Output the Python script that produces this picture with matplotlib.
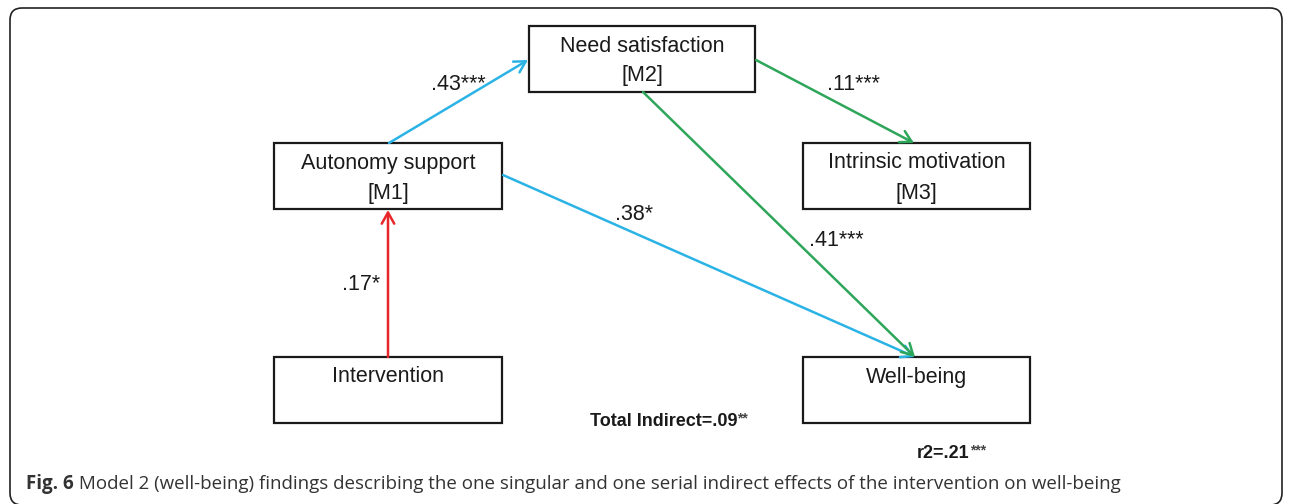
import matplotlib.pyplot as plt
from matplotlib.patches import Rectangle, FancyBboxPatch, FancyArrowPatch

# nodes of the path model
node_labels = ["Intervention", "Autonomy support\n[M1]", "Need satisfaction\n[M2]",
               "Intrinsic motivation\n[M3]", "Well-being"]
# paths (from node, to node), coefficient and colour group
path_from = [0, 1, 1, 2, 2]
path_to = [1, 2, 4, 3, 4]
path_coef = [".17*", ".43***", ".38*", ".11***", ".41***"]
path_kind = ["a", "b", "b", "c", "c"]

total_indirect = "Total Indirect=.09"
total_stars = "**"
r2_text = "r2=.21"
r2_stars = "***"
caption_bold = "Fig. 6"
caption_rest = (" Model 2 (well-being) findings describing the one singular and one serial "
                "indirect effects of the intervention on well-being")

# layout in pixel units (x0, y0, x1, y1)
boxes = [(274, 357, 502, 423), (274, 143, 502, 209), (529, 26, 755, 92),
         (803, 143, 1030, 209), (803, 357, 1030, 423)]
colors = {"a": "#e8262a", "b": "#2bb3e6", "c": "#2ea65a"}
# arrow endpoints and label positions
arrow_pts = [((388, 357), (388, 210)),
             ((389, 143), (528, 60)),
             ((503, 175), (915, 357)),
             ((756, 60), (914, 143)),
             ((643, 92), (915, 357))]
label_pos = [(361, 285), (458, 84), (634, 215), (853, 84), (836, 241)]

fig = plt.figure(figsize=(12.9, 5.04), dpi=100)
ax = fig.add_axes([0, 0, 1, 1])
ax.set_xlim(0, 1290)
ax.set_ylim(504, 0)
ax.axis("off")

font = "Liberation Sans"
ink = "#1a1a1a"

# outer rounded frame
ax.add_patch(FancyBboxPatch((10, 8), 1272, 497, boxstyle="round,pad=0,rounding_size=12",
                            fill=False, ec="#222222", lw=1.2))

for i, (x0, y0, x1, y1) in enumerate(boxes):
    ax.add_patch(Rectangle((x0, y0), x1 - x0, y1 - y0, fill=False, ec=ink, lw=1.6))
    lab = node_labels[i]
    cx = (x0 + x1) / 2
    if "\n" in lab:
        top, bottom = lab.split("\n")
        ax.text(cx, y0 + 20, top, ha="center", va="center", fontsize=15.5,
                family=font, color=ink)
        ax.text(cx, y0 + 50, bottom, ha="center", va="center", fontsize=15.5,
                family=font, color=ink)
    else:
        ax.text(cx, y0 + 20, lab, ha="center", va="center", fontsize=15.5,
                family=font, color=ink)

for k in range(len(path_coef)):
    (xa, ya), (xb, yb) = arrow_pts[k]
    ax.add_patch(FancyArrowPatch((xa, ya), (xb, yb), arrowstyle="->,head_length=8,head_width=4.5",
                                 color=colors[path_kind[k]], lw=1.8, shrinkA=0, shrinkB=0))
    lx, ly = label_pos[k]
    ax.text(lx, ly, path_coef[k], ha="center", va="center", fontsize=15.5,
            family=font, color=ink)

t = ax.text(590, 421, total_indirect, ha="left", va="center", fontsize=13,
            family=font, weight="bold", color=ink)
ax.annotate(total_stars, xycoords=t, xy=(1, 0.65), ha="left", va="center",
            fontsize=10, family=font, weight="bold", color="#444444")
t2 = ax.text(917, 453, r2_text, ha="left", va="center", fontsize=13,
             family=font, weight="bold", color=ink)
ax.annotate(r2_stars, xycoords=t2, xy=(1, 0.65), ha="left", va="center",
            fontsize=10, family=font, weight="bold", color="#444444")

c = ax.text(26, 484, caption_bold, ha="left", va="center", fontsize=13.5,
            family="Open Sans", weight="bold", color="#333333")
ax.annotate(caption_rest, xycoords=c, xy=(1, 0.5), ha="left", va="center",
            fontsize=13.5, family="Open Sans", color="#333333")

fig.savefig("out.png", dpi=100)
